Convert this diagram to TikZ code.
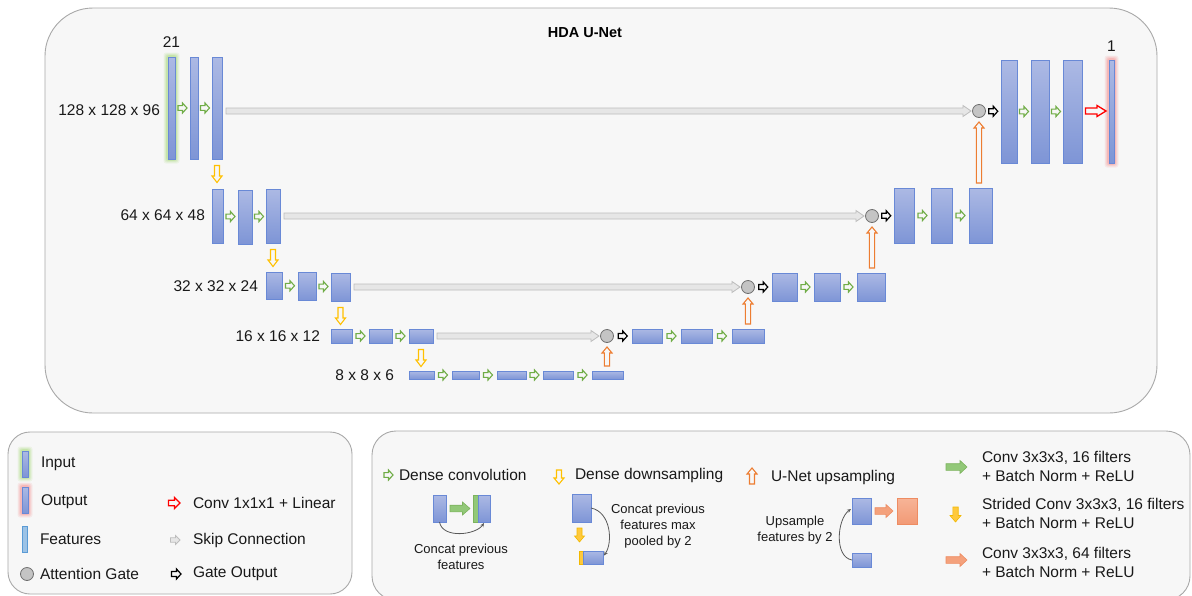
\documentclass[tikz,border=0pt]{standalone}
\usepackage{fontspec}
\setmainfont{Liberation Sans}
\usetikzlibrary{calc,arrows.meta}

\definecolor{bg}{HTML}{F7F7F7}
\definecolor{boxline}{HTML}{A9A9A9}
\definecolor{fTop}{RGB}{172,185,228}
\definecolor{fBot}{RGB}{126,149,214}
\definecolor{fLine}{RGB}{105,137,214}
\definecolor{cgreen}{HTML}{70AD47}
\definecolor{cyellow}{HTML}{FFC000}
\definecolor{corange}{HTML}{ED7D31}
\definecolor{cskipfill}{HTML}{E6E6E6}
\definecolor{cskipline}{HTML}{BDBDBD}
\definecolor{cgate}{HTML}{C4C4C4}
\definecolor{cgateline}{HTML}{6E6E6E}
\definecolor{cglowG}{HTML}{A8DA78}
\definecolor{cglowR}{HTML}{F59090}
\definecolor{gsfill}{HTML}{92C878}
\definecolor{gsline}{HTML}{7DB35E}
\definecolor{ysfill}{HTML}{FFC93C}
\definecolor{ysline}{HTML}{F2B800}
\definecolor{osfill}{HTML}{F4A17C}
\definecolor{osline}{HTML}{EE8C62}
\definecolor{salTop}{HTML}{F7B497}
\definecolor{salBot}{HTML}{F29A76}
\definecolor{featL}{HTML}{9DC3E6}
\definecolor{featLline}{HTML}{5B9BD5}
\definecolor{curvcol}{HTML}{595959}

\newcommand\mkbar[6][]{\node[feat,#1,minimum width={#5-#3},minimum height={#6-#4}] (#2) at ({(#3+#5)/2},{(#4+#6)/2}) {};}
\newcommand\glowbox[5]{%
  \foreach \gd/\go in {4.5/.12,3.6/.16,2.7/.22,1.8/.3}{%
    \fill[#1,opacity=\go,rounded corners=2.5] ({#2-\gd},{#3-\gd}) rectangle ({#4+\gd},{#5+\gd});}}
% horizontal block arrow (pointing right): style, from, to, shaft half, head half, head length
\newcommand\harr[6]{\draw[#1] let \p1=#2, \p2=#3 in
  (\x1,{\y1-#4pt}) -- ({\x2-#6pt},{\y1-#4pt}) -- ({\x2-#6pt},{\y1-#5pt}) -- (\x2,\y1)
  -- ({\x2-#6pt},{\y1+#5pt}) -- ({\x2-#6pt},{\y1+#4pt}) -- (\x1,{\y1+#4pt}) -- cycle;}
% vertical block arrow (up or down)
\newcommand\varr[6]{\draw[#1] let \p1=#2, \p2=#3, \n1={(\y2-\y1)/abs(\y2-\y1)} in
  ({\x1-#4pt},\y1) -- ({\x1-#4pt},{\y2-(\n1)*#6pt}) -- ({\x1-#5pt},{\y2-(\n1)*#6pt}) -- (\x1,\y2)
  -- ({\x1+#5pt},{\y2-(\n1)*#6pt}) -- ({\x1+#4pt},{\y2-(\n1)*#6pt}) -- ({\x1+#4pt},\y1) -- cycle;}
\newcommand\gar[2]{\harr{garr}{($(#1.east)!.5!(#2.west)+(-4.5,0)$)}{($(#1.east)!.5!(#2.west)+(4.5,0)$)}{2.4}{5}{4.5}}
\newcommand\kar[2]{\harr{karr}{($(#1.east)!.5!(#2.west)+(-4.5,0)$)}{($(#1.east)!.5!(#2.west)+(4.5,0)$)}{2.5}{5}{4.5}}
\newcommand\sar[2]{\harr{sarr}{($(#1.east |- #2.west)+(4,0)$)}{($(#2.west)+(-1.5,0)$)}{3}{5.5}{8}}
\newcommand\dar[1]{\varr{yarr}{($(#1.south)+(0,6.5)$)}{($(#1.south)+(0,23.5)$)}{2.5}{5}{6.5}}
\newcommand\uar[2]{\varr{uarr}{($(#1.north -| #2)+(0,-5)$)}{($(#2.south)+(0,4.5)$)}{2.6}{5}{6}}

\begin{document}
\begin{tikzpicture}[x=1pt,y=-1pt,
  every node/.style={inner sep=0pt,outer sep=0pt},
  panel/.style={fill=bg,draw=boxline,line width=0.9pt},
  feat/.style={rectangle,draw=fLine,line width=0.8pt,top color=fTop,bottom color=fBot},
  salbar/.style={draw=osline,top color=salTop,bottom color=salBot},
  lightbar/.style={draw=featLline,fill=featL,top color=featL,bottom color=featL},
  stripe/.style={rectangle,line width=0.6pt},
  gate/.style={circle,draw=cgateline,fill=cgate,minimum size=13pt,line width=0.8pt},
  garr/.style={draw=cgreen,line width=1.1pt,line join=miter},
  karr/.style={draw=black,line width=1.2pt,line join=miter},
  sarr/.style={draw=cskipline,fill=cskipfill,line width=0.8pt},
  yarr/.style={draw=cyellow,line width=1.1pt},
  uarr/.style={draw=corange,line width=1.1pt},
  rarr/.style={draw=red,line width=1.3pt},
  gsolid/.style={draw=gsline,fill=gsfill,line width=0.6pt},
  ysolid/.style={draw=ysline,fill=ysfill,line width=0.6pt},
  osolid/.style={draw=osline,fill=osfill,line width=0.6pt},
  curv/.style={draw=curvcol,line width=0.8pt,-{Stealth[length=4pt,width=3.5pt]}},
  lbl/.style={font=\fontsize{15.5}{18}\selectfont,text=black!90},
  lbl2/.style={font=\fontsize{15.5}{19}\selectfont,text=black!90,align=left,anchor=west},
  sml/.style={font=\fontsize{13}{16}\selectfont,text=black!90,align=center},
]
\useasboundingbox (0,0) rectangle (1192,595);
\fill[white] (0,0) rectangle (1192,595);

% ---------------- panels
\draw[panel,rounded corners=48] (45,8) rectangle (1157,413);
\draw[panel,rounded corners=22] (8,432) rectangle (352,594);
\draw[panel,rounded corners=24] (372,431) rectangle (1190,600);

\node[font=\fontsize{14.5}{17}\selectfont\bfseries] (title) at (585,33) {HDA U-Net};

% ---------------- level 1
\glowbox{cglowG}{168}{57}{175}{159}
\mkbar{in}{168}{57}{175}{159}
\mkbar{a1}{190}{57}{198}{159}
\mkbar{a2}{212}{57}{222}{159}
\node[lbl] (n21) at (171.5,42) {21};
\node[lbl,anchor=east] (t1) at (160,110) {128 x 128 x 96};
\node[gate] (g1) at (979,111) {};
\mkbar{r1a}{1001}{60}{1017}{163}
\mkbar{r1b}{1031}{60}{1049}{163}
\mkbar{r1c}{1063}{60}{1082}{163}
\glowbox{cglowR}{1109}{60}{1114}{163}
\mkbar{out}{1109}{60}{1114}{163}
\node[lbl] (n1) at (1111.5,46) {1};

% ---------------- level 2
\mkbar{b0}{212}{189}{223}{243}
\mkbar{b1}{238}{190}{252}{244}
\mkbar{b2}{266}{189}{280}{243}
\node[lbl,anchor=east] (t2) at (205,215) {64 x 64 x 48};
\node[gate] (g2) at (872,216) {};
\mkbar{r2a}{894}{188}{914}{243}
\mkbar{r2b}{931}{188}{952}{243}
\mkbar{r2c}{969}{188}{992}{243}

% ---------------- level 3
\mkbar{c0}{266}{272}{282}{299}
\mkbar{c1}{298}{272}{316}{300}
\mkbar{c2}{331}{273}{350}{301}
\node[lbl,anchor=east] (t3) at (258,286) {32 x 32 x 24};
\node[gate] (g3) at (748,287) {};
\mkbar{r3a}{772}{273}{797}{301}
\mkbar{r3b}{814}{273}{840}{301}
\mkbar{r3c}{857}{273}{885}{301}

% ---------------- level 4
\mkbar{d0}{331}{329}{352}{343}
\mkbar{d1}{369}{329}{392}{343}
\mkbar{d2}{409}{329}{433}{343}
\node[lbl,anchor=east] (t4) at (320,336) {16 x 16 x 12};
\node[gate] (g4) at (607,336) {};
\mkbar{r4a}{632}{329}{662}{343}
\mkbar{r4b}{681}{329}{712}{343}
\mkbar{r4c}{732}{329}{764}{343}

% ---------------- level 5
\mkbar{e0}{409}{371}{434}{379}
\mkbar{e1}{452}{371}{479}{379}
\mkbar{e2}{497}{371}{526}{379}
\mkbar{e3}{543}{371}{573}{379}
\mkbar{e4}{592}{371}{623}{379}
\node[lbl,anchor=east] (t5) at (394,375) {8 x 8 x 6};

% ---------------- dense convolutions
\gar{in}{a1} \gar{a1}{a2}
\gar{b0}{b1} \gar{b1}{b2}
\gar{c0}{c1} \gar{c1}{c2}
\gar{d0}{d1} \gar{d1}{d2}
\gar{e0}{e1} \gar{e1}{e2} \gar{e2}{e3} \gar{e3}{e4}
\gar{r1a}{r1b} \gar{r1b}{r1c}
\gar{r2a}{r2b} \gar{r2b}{r2c}
\gar{r3a}{r3b} \gar{r3b}{r3c}
\gar{r4a}{r4b} \gar{r4b}{r4c}

% ---------------- downsampling
\dar{a2} \dar{b2} \dar{c2} \dar{d2}

% ---------------- skips
\sar{a2}{g1} \sar{b2}{g2} \sar{c2}{g3} \sar{d2}{g4}

% ---------------- gate outputs
\kar{g1}{r1a} \kar{g2}{r2a} \kar{g3}{r3a} \kar{g4}{r4a}

% ---------------- upsampling
\uar{r2c}{g1} \uar{r3c}{g2} \uar{r4c}{g3} \uar{e4}{g4}

% ---------------- output conv
\harr{rarr}{($(r1c.east |- g1)+(3.5,0)$)}{($(out.west |- g1)+(-3,0)$)}{3}{5.5}{9}

% ================= legend left
\glowbox{cglowG}{22}{451}{28}{477}
\mkbar{lin}{22}{451}{28}{477}
\node[lbl,anchor=west] (lt1) at (41,464) {Input};
\glowbox{cglowR}{22}{487}{28}{513}
\mkbar{lout}{22}{487}{28}{513}
\node[lbl,anchor=west] (lt2) at (41,502) {Output};
\mkbar[lightbar]{lfeat}{22}{526}{27}{552}
\node[lbl,anchor=west] (lt3) at (40,539) {Features};
\node[gate] (lgate) at (27,574) {};
\node[lbl,anchor=west] (lt4) at (40,574) {Attention Gate};
\harr{rarr}{(168.5,503)}{(180,503)}{2.8}{5.5}{5.5}
\node[lbl,anchor=west] (lt5) at (193,503) {Conv 1x1x1 + Linear};
\harr{sarr}{(170.5,540)}{(180,540)}{2.2}{4.5}{4.5}
\node[lbl,anchor=west] (lt6) at (193,540) {Skip Connection};
\harr{karr}{(171.5,574)}{(181,574)}{2.5}{5}{4.5}
\node[lbl,anchor=west] (lt7) at (193,574) {Gate Output};

% ================= legend right
\harr{garr}{(384,475)}{(393,475)}{2.4}{5}{4.5}
\node[lbl,anchor=west] (rt1) at (399,475) {Dense convolution};
\mkbar{m1}{433}{495}{446}{522}
\node[stripe,draw=gsline,fill=gsfill,minimum width=5pt,minimum height=27pt] (m2s) at (475.5,508.5) {};
\mkbar{m2}{478}{495}{490}{522}
\harr{gsolid}{($(m1.east)+(4,0)$)}{($(m2s.west)+(-3,0)$)}{3.3}{6.5}{7.5}
\draw[curv] (m1.south) .. controls +(3,17) and +(-8,12) .. ($(m2.south)+(0,1)$);
\node[sml] (rs1) at (461,557) {Concat previous\\features};

\varr{yarr}{(559,470)}{(559,484)}{2.5}{5}{6}
\node[lbl,anchor=west] (rt2) at (575,475) {Dense downsampling};
\mkbar{m3}{572}{494}{591}{522}
\varr{ysolid}{($(m3.south west)+(7.5,6)$)}{($(m3.south west)+(7.5,20)$)}{2.5}{5}{6}
\node[stripe,draw=ysline,fill=ysfill,minimum width=4pt,minimum height=13pt] (m4s) at (581,557.5) {};
\mkbar{m4}{583}{551}{603}{564}
\draw[curv] (m3.east) .. controls +(20,4) and +(9,-13) .. ($(m4.east)+(1,-2)$);
\node[sml] (rs2) at (658,526) {Concat previous\\features max\\pooled by 2};

\varr{uarr}{(752,484)}{(752,468)}{2.5}{5}{6}
\node[lbl,anchor=west] (rt3) at (771,477) {U-Net upsampling};
\mkbar{m5}{852}{498}{871}{524}
\mkbar[salbar]{m6}{897}{498}{917}{524}
\harr{osolid}{($(m5.east)+(4,0)$)}{($(m6.west)+(-4,0)$)}{3.3}{6.5}{7}
\mkbar{m7}{852}{553}{871}{567}
\draw[curv] (m7.west) .. controls +(-18,-3) and +(-14,10) .. ($(m5.west)+(-1,-2)$);
\node[sml] (rs3) at (795,530.5) {Upsample\\features by 2};

\harr{gsolid}{(946,467)}{(967,467)}{3.3}{6.5}{7}
\node[lbl2] (k1) at (982,466.5) {Conv 3x3x3, 16 filters\\+ Batch Norm + ReLU};
\varr{ysolid}{(955.5,507)}{(955.5,522)}{2.7}{5.5}{6.5}
\node[lbl2] (k2) at (982,513.5) {Strided Conv 3x3x3, 16 filters\\+ Batch Norm + ReLU};
\harr{osolid}{(946,560)}{(967,560)}{3.3}{6.5}{7}
\node[lbl2] (k3) at (982,562) {Conv 3x3x3, 64 filters\\+ Batch Norm + ReLU};
\end{tikzpicture}
\end{document}
